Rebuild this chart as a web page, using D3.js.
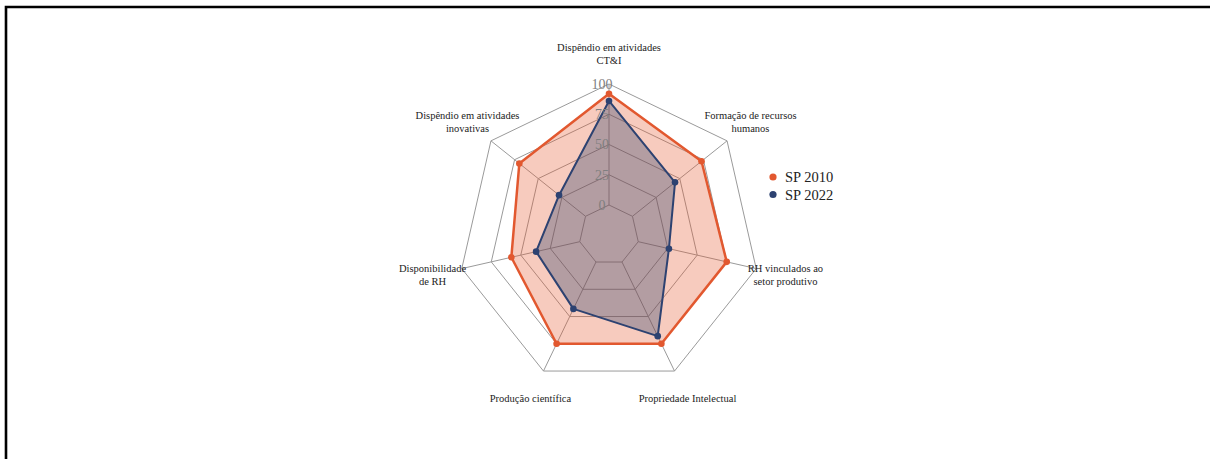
<!DOCTYPE html>
<html>
<head>
<meta charset="utf-8">
<script src="https://cdn.jsdelivr.net/npm/d3@7"></script>
<style>
  html, body { margin: 0; padding: 0; background: #fff; }
  svg { display: block; }
  text { font-family: "Liberation Serif", "Times New Roman", serif; }
</style>
</head>
<body>
<svg id="chart" width="1210" height="459"></svg>
<script>
// Indicator axes (clockwise from the top)
const categories = [
  ["Dispêndio em atividades", "CT&I"],
  ["Formação de recursos", "humanos"],
  ["RH vinculados ao", "setor produtivo"],
  ["Propriedade Intelectual"],
  ["Produção científica"],
  ["Disponibilidade", "de RH"],
  ["Dispêndio em atividades", "inovativas"]
];
const sp2010 = [92, 73, 75, 75, 75, 58, 70];
const sp2022 = [86, 45, 26, 68, 43, 37, 28];
const radialTicks = [0, 25, 50, 75, 100];
const seriesNames = ["SP 2010", "SP 2022"];

const svg = d3.select("#chart");
const W = 1210, H = 459;
const cx = 609, cy = 235;

const series = [
  { name: seriesNames[0], values: sp2010, line: "#e2582f", fill: "rgba(228,87,46,0.31)", width: 2.5 },
  { name: seriesNames[1], values: sp2022, line: "#2d4271", fill: "rgba(43,63,107,0.33)", width: 2 }
];

// Frame
svg.append("path")
  .attr("d", `M6,${H} L6,7 L${W},7`)
  .attr("fill", "none").attr("stroke", "#000").attr("stroke-width", 2.6);

const n = categories.length;
const angle = d3.scaleLinear().domain([0, n]).range([0, 2 * Math.PI]);
const r = d3.scaleLinear().domain([0, 100]).range([30, 151]);

const pt = (i, v) => {
  const a = angle(i);
  return [cx + r(v) * Math.sin(a), cy - r(v) * Math.cos(a)];
};

const g = svg.append("g");

// Grid rings
radialTicks.forEach(t => {
  const pts = d3.range(n).map(i => pt(i, t));
  g.append("path")
    .attr("d", d3.line()(pts) + "Z")
    .attr("fill", "none").attr("stroke", "#9a9a9a").attr("stroke-width", 1);
});
// Spokes
d3.range(n).forEach(i => {
  const [x0, y0] = pt(i, 0), [x1, y1] = pt(i, 100);
  g.append("line").attr("x1", x0).attr("y1", y0).attr("x2", x1).attr("y2", y1)
    .attr("stroke", "#9a9a9a").attr("stroke-width", 1);
});

// Series polygons
series.forEach(s => {
  const pts = s.values.map((v, i) => pt(i, v));
  g.append("path")
    .attr("d", d3.line()(pts) + "Z")
    .attr("fill", s.fill)
    .attr("stroke", s.line).attr("stroke-width", s.width)
    .attr("stroke-linejoin", "round");
});
series.forEach(s => {
  g.selectAll(null).data(s.values).enter().append("circle")
    .attr("cx", (v, i) => pt(i, v)[0])
    .attr("cy", (v, i) => pt(i, v)[1])
    .attr("r", 3.3).attr("fill", s.line);
});

// Radial tick labels
g.selectAll(null).data(radialTicks).enter().append("text")
  .attr("x", cx - 7).attr("y", d => cy - r(d))
  .attr("dy", "0.35em")
  .attr("text-anchor", "middle")
  .attr("font-size", 14).attr("fill", "#7f7f7f")
  .text(d => d);

// Axis labels
const labelR = 181, lh = 13;
categories.forEach((lines, i) => {
  const a = angle(i);
  const x = cx + labelR * Math.sin(a), y = cy - labelR * Math.cos(a);
  const t = g.append("text")
    .attr("text-anchor", "middle")
    .attr("font-size", 10.5).attr("fill", "#222");
  lines.forEach((ln, k) => {
    t.append("tspan").attr("x", x)
      .attr("y", y + (k - (lines.length - 1) / 2) * lh)
      .attr("dy", "0.35em").text(ln);
  });
});

// Legend
const leg = svg.append("g").attr("transform", "translate(773,177)");
series.forEach((s, k) => {
  leg.append("circle").attr("cx", 0).attr("cy", k * 17.5).attr("r", 3.6).attr("fill", s.line);
  leg.append("text").attr("x", 12).attr("y", k * 17.5).attr("dy", "0.35em")
    .attr("font-size", 14.5).attr("fill", "#222").text(s.name);
});
</script>
</body>
</html>
